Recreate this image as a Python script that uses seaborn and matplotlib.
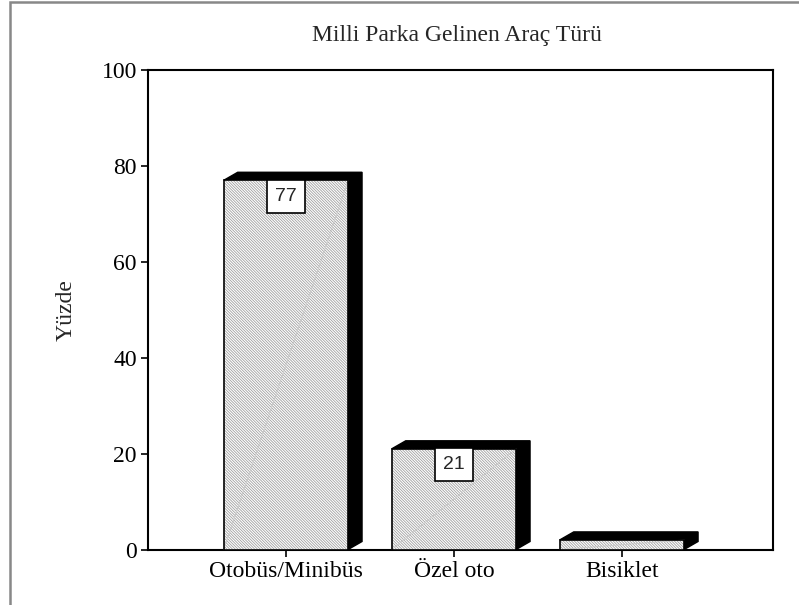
import numpy as np
import pandas as pd
import seaborn as sns
import matplotlib.pyplot as plt
from matplotlib.patches import Rectangle, Polygon

categories = ['Otobüs/Minibüs', 'Özel oto', 'Bisiklet']
percent = [77, 21, 2]
bar_labels = ['77', '21', '']
y_ticks = [0, 20, 40, 60, 80, 100]

title = 'Milli Parka Gelinen Araç Türü'
y_label = 'Yüzde'

df = pd.DataFrame({'Araç': categories, 'Yüzde': percent})

sns.set_style('white')
plt.rcParams['font.family'] = ['Liberation Serif', 'DejaVu Serif']
plt.rcParams['hatch.linewidth'] = 0.6

fig = plt.figure(figsize=(7.99, 6.05), dpi=100)
ax = fig.add_axes([148 / 799, 1 - 549.5 / 605, 625 / 799, 479.5 / 605])

# front faces
sns.barplot(data=df, x='Araç', y='Yüzde', ax=ax, color='white', width=0.74,
            edgecolor='#a0a0a0', linewidth=0, hatch='\\' * 12, zorder=3,
            saturation=1)

# depth of the fake 3d block (data units)
dx, dy = 0.083, 1.67
for p, lab in zip(ax.patches, bar_labels):
    x0, y0 = p.get_x(), p.get_y()
    x1, y1 = x0 + p.get_width(), y0 + p.get_height()
    side = Polygon([(x0, y1), (x0 + dx, y1 + dy), (x1 + dx, y1 + dy),
                    (x1 + dx, y0 + dy), (x1, y0), (x1, y1)],
                   closed=True, facecolor='black', edgecolor='black',
                   linewidth=1, zorder=2)
    ax.add_patch(side)
    ax.add_patch(Rectangle((x0, y0), p.get_width(), p.get_height(), fill=False,
                           edgecolor='black', linewidth=1.2, zorder=4))
    ax.plot([x0, x1], [y0, y1], color='#c8c8c8', linewidth=0.6, zorder=3.5)
    if lab:
        ax.annotate(lab, xy=(x0 + p.get_width() / 2, y1), xytext=(0, -11.5),
                    textcoords='offset points', ha='center', va='center',
                    fontsize=14, family=['Liberation Sans', 'DejaVu Sans'],
                    bbox=dict(boxstyle='square,pad=0.4', facecolor='white',
                              edgecolor='black', linewidth=1.2), zorder=5)

ax.set_xlim(-0.821, 2.899)
ax.set_ylim(0, 100)
ax.set_yticks(y_ticks)
ax.set_xlabel('')
ax.set_ylabel(y_label, fontsize=17)
ax.yaxis.set_label_coords(-71 / 625, 0.5)
ax.tick_params(axis='both', direction='out', length=5, width=1.2,
               labelsize=17, colors='black', pad=3)
ax.tick_params(axis='y', left=True)
ax.tick_params(axis='x', bottom=True)
for s in ax.spines.values():
    s.set_visible(True)
    s.set_color('black')
    s.set_linewidth(1.5)

fig.text(457 / 799, 1 - 36 / 605, title, ha='center', va='center', fontsize=17)

# outer grey frame
fig.patches.append(Rectangle((10 / 799, -0.1), 1.2, 1.1 - 2 / 605,
                             transform=fig.transFigure, fill=False,
                             edgecolor='#888888', linewidth=1.8))

plt.savefig('out.png', dpi=100)
